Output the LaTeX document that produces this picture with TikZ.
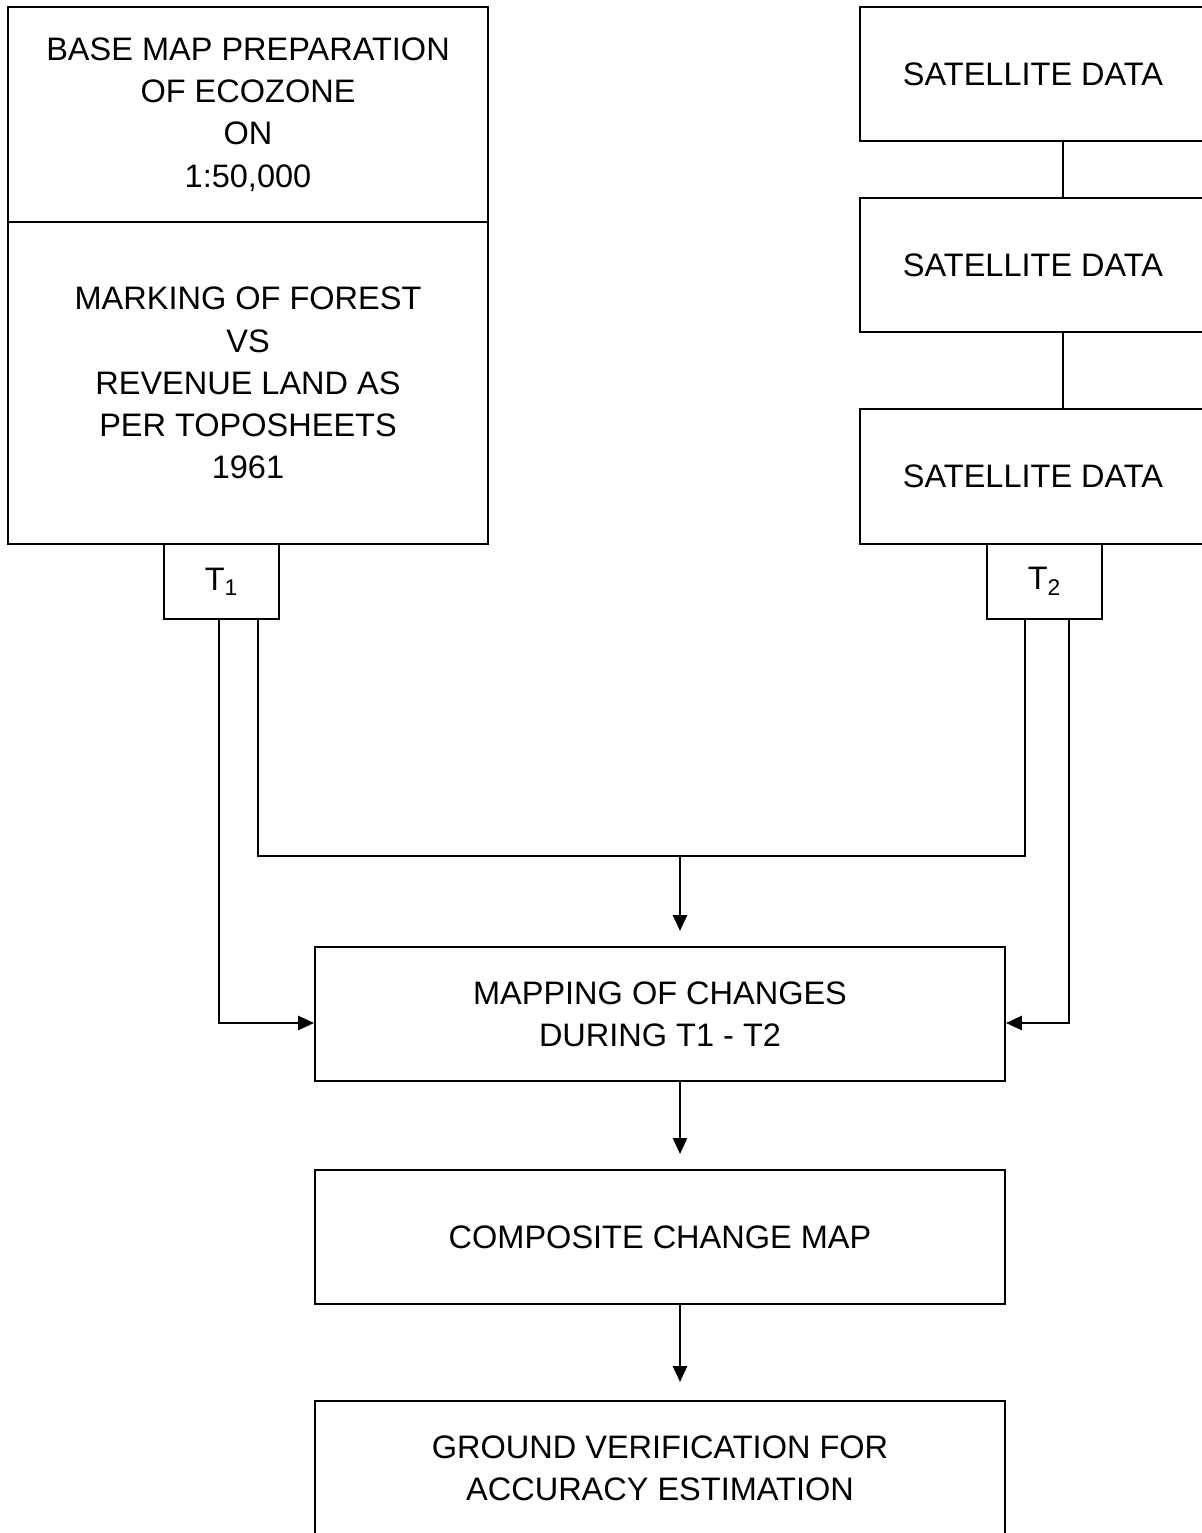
\documentclass[tikz,border=0pt]{standalone}
\usepackage{fontspec}
\setmainfont{Liberation Sans}
\usetikzlibrary{arrows.meta}
\begin{document}
\begin{tikzpicture}[x=.02cm,y=-.02cm,line width=1.2pt,every node/.style={font=\fontsize{18.5}{24}\selectfont,align=center},
	box/.style={draw,inner sep=0pt},
	arr/.style={-{Triangle[length=9pt,width=8pt]}}]
		\useasboundingbox(0,0)rectangle(1202,1533);
		\node[box,minimum width=9.6cm,minimum height=4.3cm](base)at(248,114.5){BASE MAP PREPARATION\\OF ECOZONE\\ON\\1:50,000};
		\node[box,minimum width=9.6cm,minimum height=6.44cm](mark)at(248,383){MARKING OF FOREST\\VS\\REVENUE LAND AS\\PER TOPOSHEETS\\1961};
		\node[box,minimum width=2.3cm,minimum height=1.5cm](t1)at(221.5,581.5){T\textsubscript{1}};
		\node[box,minimum width=6.92cm,minimum height=2.68cm](sat1)at(1033,74){SATELLITE DATA};
		\node[box,minimum width=6.92cm,minimum height=2.68cm](sat2)at(1033,265){SATELLITE DATA};
		\node[box,minimum width=6.92cm,minimum height=2.7cm](sat3)at(1033,476.5){SATELLITE DATA};
		\node[box,minimum width=2.3cm,minimum height=1.5cm](t2)at(1044.5,581.5){T\textsubscript{2}};
		\node[box,minimum width=13.8cm,minimum height=2.68cm](mapping)at(660,1014){MAPPING OF CHANGES\\ DURING T1 - T2};
		\node[box,minimum width=13.8cm,minimum height=2.68cm](composite)at(660,1237){COMPOSITE CHANGE MAP};
		\node[box,minimum width=13.8cm,minimum height=2.68cm](ground)at(660,1468){GROUND VERIFICATION FOR\\ ACCURACY ESTIMATION};
		\coordinate(X)at(1063,0);
		\coordinate(P1)at(219,1023);
		\coordinate(P2)at(258,856);
		\coordinate(Q2)at(1025,856);
		\coordinate(Q1)at(1069,1023);
		\coordinate(J)at(680,856);
		\draw(sat1.south-|X)--(sat2.north-|X);
		\draw(sat2.south-|X)--(sat3.north-|X);
		\draw[arr](t1.south-|P1)--(P1)--(mapping.west|-P1);
		\draw(t1.south-|P2)--(P2)--(Q2)--(t2.south-|Q2);
		\draw[arr](t2.south-|Q1)--(Q1)--(mapping.east|-Q1);
		\draw[arr](J)--([yshift=.3cm]mapping.north-|J);
		\draw[arr](mapping.south-|J)--([yshift=.3cm]composite.north-|J);
		\draw[arr](composite.south-|J)--([yshift=.36cm]ground.north-|J);
		\end{tikzpicture}
\end{document}
